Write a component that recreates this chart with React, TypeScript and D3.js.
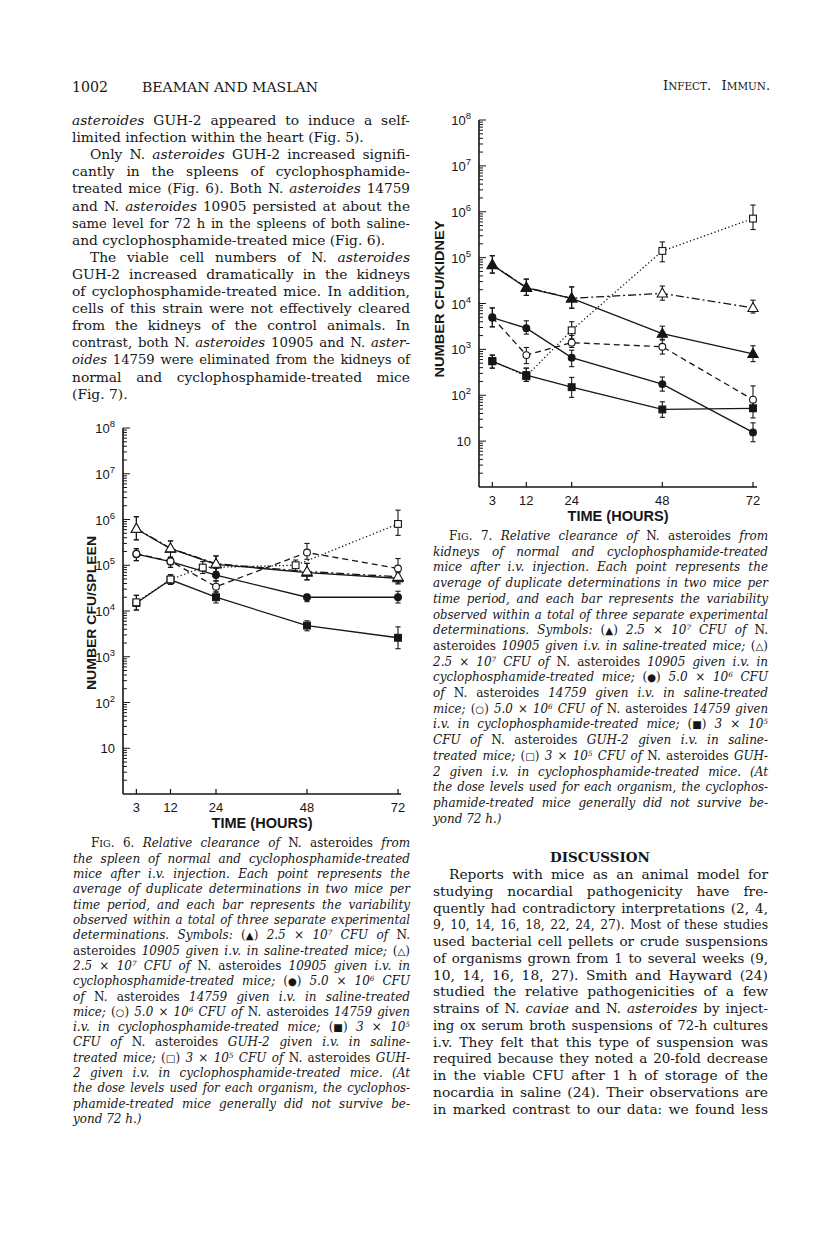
import React from 'react';
import * as d3 from 'd3';

// ---------------- DATA ----------------
const HOURS = [3, 12, 24, 48, 72];
const HOURS_SPLEEN_SQ_C = [3, 12, 20.5, 45, 72]; // open squares plotted slightly left in Fig. 6
const X_TICKS = [3, 12, 24, 48, 72];
const Y_EXPONENTS = [1, 2, 3, 4, 5, 6, 7, 8];

// Fig. 6 — spleen
const SPL_TRI_S = [6.2e5, 2.3e5, 1.05e5, 6.9e4, 5.2e4];
const SPL_TRI_S_LO = [3.6e5, 1.4e5, 7.2e4, 4.8e4, 3.9e4];
const SPL_TRI_S_HI = [1.15e6, 3.4e5, 1.6e5, 1.1e5, 6.8e4];
const SPL_TRI_C = [6.3e5, 2.35e5, 1.08e5, 7.3e4, 5.6e4];
const SPL_TRI_C_LO = [3.6e5, 1.4e5, 7.2e4, 4.8e4, 4.1e4];
const SPL_TRI_C_HI = [1.15e6, 3.4e5, 1.6e5, 1.1e5, 7.2e4];
const SPL_CIRC_S = [1.75e5, 1.2e5, 6.1e4, 2.0e4, 2.0e4];
const SPL_CIRC_S_LO = [1.26e5, 9.0e4, 4.6e4, 1.6e4, 1.5e4];
const SPL_CIRC_S_HI = [2.3e5, 1.5e5, 8.5e4, 2.3e4, 2.7e4];
const SPL_CIRC_C = [1.78e5, 1.22e5, 3.4e4, 1.9e5, 8.5e4];
const SPL_CIRC_C_LO = [1.26e5, 9.0e4, 2.6e4, 1.35e5, 5.0e4];
const SPL_CIRC_C_HI = [2.3e5, 1.5e5, 4.5e4, 3.0e5, 1.4e5];
const SPL_SQ_S = [1.5e4, 4.8e4, 2.0e4, 4.8e3, 2.6e3];
const SPL_SQ_S_LO = [1.05e4, 3.8e4, 1.5e4, 3.7e3, 1.5e3];
const SPL_SQ_S_HI = [2.2e4, 6.2e4, 2.6e4, 6.1e3, 4.5e3];
const SPL_SQ_C = [1.55e4, 4.9e4, 8.9e4, 1.0e5, 8.0e5];
const SPL_SQ_C_LO = [1.05e4, 3.8e4, 6.6e4, 7.6e4, 4.5e5];
const SPL_SQ_C_HI = [2.2e4, 6.2e4, 1.2e5, 1.3e5, 1.6e6];

// Fig. 7 — kidney
const KID_TRI_S = [6.9e4, 2.2e4, 1.3e4, 2.2e3, 8.0e2];
const KID_TRI_S_LO = [4.6e4, 1.5e4, 7.9e3, 1.6e3, 5.4e2];
const KID_TRI_S_HI = [1.1e5, 3.4e4, 2.3e4, 3.2e3, 1.2e3];
const KID_TRI_C = [7.0e4, 2.25e4, 1.3e4, 1.66e4, 8.0e3];
const KID_TRI_C_LO = [4.6e4, 1.5e4, 7.9e3, 1.18e4, 6.2e3];
const KID_TRI_C_HI = [1.1e5, 3.4e4, 2.3e4, 2.4e4, 1.18e4];
const KID_CIRC_S = [4.9e3, 2.9e3, 6.6e2, 1.75e2, 15.5];
const KID_CIRC_S_LO = [3.1e3, 2.15e3, 4.2e2, 1.23e2, 9.7];
const KID_CIRC_S_HI = [8.0e3, 4.2e3, 9.6e2, 2.5e2, 25];
const KID_CIRC_C = [5.0e3, 7.5e2, 1.4e3, 1.14e3, 80];
const KID_CIRC_C_LO = [3.1e3, 4.9e2, 1.1e3, 7.9e2, 44];
const KID_CIRC_C_HI = [8.0e3, 1.1e3, 2.0e3, 1.66e3, 1.6e2];
const KID_SQ_S = [5.5e2, 2.75e2, 1.5e2, 49, 52];
const KID_SQ_S_LO = [3.9e2, 2.0e2, 90, 33, 32];
const KID_SQ_S_HI = [7.5e2, 3.9e2, 2.45e2, 72, 81];
const KID_SQ_C = [5.6e2, 2.6e2, 2.6e3, 1.4e5, 7.1e5];
const KID_SQ_C_LO = [3.9e2, 2.0e2, 1.7e3, 8.1e4, 4.1e5];
const KID_SQ_C_HI = [7.5e2, 3.9e2, 4.0e3, 2.2e5, 1.4e6];

// ---------------- TEXT ----------------
const LEFT_BODY = [
  ['_asteroides_ GUH-2 appeared to induce a self-', 1, 0],
  ['limited infection within the heart (Fig. 5).', 0, 0],
  ['Only N. _asteroides_ GUH-2 increased signifi-', 1, 1],
  ['cantly in the spleens of cyclophosphamide-', 1, 0],
  ['treated mice (Fig. 6). Both N. _asteroides_ 14759', 1, 0],
  ['and N. _asteroides_ 10905 persisted at about the', 1, 0],
  ['same level for 72 h in the spleens of both saline-', 1, 0],
  ['and cyclophosphamide-treated mice (Fig. 6).', 0, 0],
  ['The viable cell numbers of N. _asteroides_', 1, 1],
  ['GUH-2 increased dramatically in the kidneys', 1, 0],
  ['of cyclophosphamide-treated mice. In addition,', 1, 0],
  ['cells of this strain were not effectively cleared', 1, 0],
  ['from the kidneys of the control animals. In', 1, 0],
  ['contrast, both N. _asteroides_ 10905 and N. _aster-_', 1, 0],
  ['_oides_ 14759 were eliminated from the kidneys of', 1, 0],
  ['normal and cyclophosphamide-treated mice', 1, 0],
  ['(Fig. 7).', 0, 0],
];

const CAPTION_TAIL = [
  'mice after i.v. injection. Each point represents the',
  'average of duplicate determinations in two mice per',
  'time period, and each bar represents the variability',
  'observed within a total of three separate experimental',
  'determinations. Symbols: _(▲)_ 2.5 × 10^7^ CFU of _N._',
  '_asteroides_ 10905 given i.v. in saline-treated mice; _(△)_',
  '2.5 × 10^7^ CFU of _N. asteroides_ 10905 given i.v. in',
  'cyclophosphamide-treated mice; _(●)_ 5.0 × 10^6^ CFU',
  'of _N. asteroides_ 14759 given i.v. in saline-treated',
  'mice; _(○)_ 5.0 × 10^6^ CFU of _N. asteroides_ 14759 given',
  'i.v. in cyclophosphamide-treated mice; _(■)_ 3 × 10^5^',
  'CFU of _N. asteroides_ GUH-2 given i.v. in saline-',
  'treated mice; _(□)_ 3 × 10^5^ CFU of _N. asteroides_ GUH-',
  '2 given i.v. in cyclophosphamide-treated mice. (At',
  'the dose levels used for each organism, the cyclophos-',
  'phamide-treated mice generally did not survive be-',
  'yond 72 h.)',
];
const FIG6_CAPTION = [
  '_F~IG~. 6._ Relative clearance of _N. asteroides_ from',
  'the spleen of normal and cyclophosphamide-treated',
  ...CAPTION_TAIL,
];
const FIG7_CAPTION = [
  '_F~IG~. 7._ Relative clearance of _N. asteroides_ from',
  'kidneys of normal and cyclophosphamide-treated',
  ...CAPTION_TAIL,
];

const DISCUSSION = [
  'Reports with mice as an animal model for',
  'studying nocardial pathogenicity have fre-',
  'quently had contradictory interpretations (2, 4,',
  '9, 10, 14, 16, 18, 22, 24, 27). Most of these studies',
  'used bacterial cell pellets or crude suspensions',
  'of organisms grown from 1 to several weeks (9,',
  '10, 14, 16, 18, 27). Smith and Hayward (24)',
  'studied the relative pathogenicities of a few',
  'strains of N. _caviae_ and N. _asteroides_ by inject-',
  'ing ox serum broth suspensions of 72-h cultures',
  'i.v. They felt that this type of suspension was',
  'required because they noted a 20-fold decrease',
  'in the viable CFU after 1 h of storage of the',
  'nocardia in saline (24). Their observations are',
  'in marked contrast to our data: we found less',
];

// ---------------- LAYOUT ----------------
const SERIF = '"DejaVu Serif", "Liberation Serif", serif';
const SANS = '"Liberation Sans", Arial, sans-serif';
const SYMBOL_FONT = '"DejaVu Sans", sans-serif';
const SYMBOLS = '▲△●○■□';
const INK = '#161616';

const FIG6_LAYOUT = { axisX: 123, yTop: 428, yBottom: 794, xr: [125, 398], xEnd: 401, labCx: 91, labCy: 613, labLen: 154 };
const FIG7_LAYOUT = { axisX: 479, yTop: 120, yBottom: 487, xr: [481, 753], xEnd: 757, labCx: 439, labCy: 299, labLen: 157 };

type Seg = { t: string; it: boolean; sup: boolean; sc: boolean; sym: boolean };
function parse(s: string): Seg[] {
  const out: Seg[] = [];
  let it = false, sup = false, sc = false, buf = '';
  const push = () => { if (buf) { out.push({ t: buf, it, sup, sc, sym: false }); buf = ''; } };
  for (const ch of s) {
    if (ch === '_') { push(); it = !it; }
    else if (ch === '^') { push(); sup = !sup; }
    else if (ch === '~') { push(); sc = !sc; }
    else if (SYMBOLS.includes(ch)) { push(); out.push({ t: ch, it: false, sup: false, sc: false, sym: true }); }
    else buf += ch;
  }
  push();
  return out;
}

let measureCtx: CanvasRenderingContext2D | null = null;
function measure(text: string, font: string): number {
  if (!measureCtx) measureCtx = document.createElement('canvas').getContext('2d');
  if (!measureCtx) return text.length * 7;
  measureCtx.font = font;
  return measureCtx.measureText(text).width;
}

function Line({ x, y, str, size, width, italicBase = false, weight = 'normal', anchor = 'start' }:
  { x: number; y: number; str: string; size: number; width?: number; italicBase?: boolean; weight?: string; anchor?: string }) {
  const segs = parse(str);
  const info = segs.map(s => {
    const fs = s.sup ? size * 0.6 : s.sc ? size * 0.8 : s.sym ? size * 0.85 : size;
    const italic = s.sym ? false : italicBase !== s.it;
    const fam = s.sym ? SYMBOL_FONT : SERIF;
    const w = measure(s.t, `${italic ? 'italic' : 'normal'} ${weight} ${fs}px ${fam}`);
    return { fs, italic, w, fam };
  });
  let wordSpacing: number | undefined;
  let squeeze = false;
  if (width) {
    const natural = info.reduce((a, b) => a + b.w, 0);
    const spaces = segs.reduce((a, s) => a + (s.t.match(/ /g) || []).length, 0);
    if (spaces > 0) {
      wordSpacing = (width - natural) / spaces;
      const minWs = size * 0.12;
      if (wordSpacing < minWs) { wordSpacing = minWs; squeeze = true; }
    }
  }
  return (
    <text x={x} y={y} fontFamily={SERIF} fontSize={size} fill={INK} fontWeight={weight}
      textAnchor={anchor} xmlSpace="preserve" wordSpacing={wordSpacing}
      {...(squeeze ? { textLength: width, lengthAdjust: 'spacingAndGlyphs' } : {})}>
      {segs.map((s, i) => (
        <tspan key={i} fontSize={info[i].fs} fontFamily={s.sym ? SYMBOL_FONT : undefined}
          baselineShift={s.sup ? size * 0.3 : undefined}
          fontStyle={info[i].italic ? 'italic' : 'normal'}>{s.t}</tspan>
      ))}
    </text>
  );
}

type Series = { xs: number[]; v: number[]; lo: number[]; hi: number[]; marker: 'tri' | 'circ' | 'sq'; filled: boolean; dash: string };

function Chart({ L, series, yLabel }: { L: typeof FIG6_LAYOUT; series: Series[]; yLabel: string }) {
  const y = d3.scaleLog().domain([1, 1e8]).range([L.yBottom, L.yTop]);
  const x = d3.scaleLinear().domain([0, 72]).range(L.xr);
  const line = d3.line<[number, number]>().x(d => x(d[0])).y(d => y(d[1]));
  const ticks = y.ticks();
  const tri = d3.symbol(d3.symbolTriangle, 46)()!;
  const marker = (s: Series, px: number, py: number, k: number) => {
    const fill = s.filled ? INK : '#fff';
    if (s.marker === 'circ') return <circle key={k} cx={px} cy={py} r={3.4} fill={fill} stroke={INK} strokeWidth={1.1} />;
    if (s.marker === 'sq') return <rect key={k} x={px - 3.4} y={py - 3.4} width={6.8} height={6.8} fill={fill} stroke={INK} strokeWidth={1.1} />;
    return <path key={k} d={tri} transform={`translate(${px},${py + 0.6})`} fill={fill} stroke={INK} strokeWidth={1.1} />;
  };
  return (
    <g>
      <line x1={L.axisX} x2={L.axisX} y1={L.yTop} y2={L.yBottom} stroke={INK} strokeWidth={1.6} />
      <line x1={L.axisX} x2={L.xEnd} y1={L.yBottom} y2={L.yBottom} stroke={INK} strokeWidth={1.6} />
      {ticks.map((t, i) => {
        const e = Math.log10(t);
        const major = Math.abs(e - Math.round(e)) < 1e-9;
        if (t === 1) return null;
        return <line key={i} x1={L.axisX} x2={L.axisX + (major ? 7 : 4)} y1={y(t)} y2={y(t)} stroke={INK} strokeWidth={1} />;
      })}
      {Y_EXPONENTS.map(e => (
        <text key={e} x={L.axisX - 8} y={y(Math.pow(10, e)) + 5} textAnchor="end" fontFamily={SANS} fontSize={13} fill={INK}>
          10{e > 1 ? <tspan dy={-6} fontSize={9.5}>{e}</tspan> : null}
        </text>
      ))}
      {X_TICKS.map(t => (
        <g key={t}>
          <line x1={x(t)} x2={x(t)} y1={L.yBottom} y2={L.yBottom - 5} stroke={INK} strokeWidth={1.2} />
          <text x={x(t)} y={L.yBottom + 18} textAnchor="middle" fontFamily={SANS} fontSize={13} fill={INK}>{t}</text>
        </g>
      ))}
      <text x={(L.axisX + L.xEnd) / 2} y={L.yBottom + 34} textAnchor="middle" fontFamily={SANS} fontWeight="bold"
        fontSize={14} fill={INK} textLength={101} lengthAdjust="spacingAndGlyphs">TIME (HOURS)</text>
      <text transform={`translate(${L.labCx + 4.5},${L.labCy}) rotate(-90)`} textAnchor="middle" fontFamily={SANS}
        fontWeight="bold" fontSize={12.5} fill={INK} textLength={L.labLen} lengthAdjust="spacingAndGlyphs">{yLabel}</text>
      {series.map((s, i) => (
        <path key={'l' + i} d={line(s.xs.map((h, j) => [h, s.v[j]] as [number, number]))!} fill="none" stroke={INK}
          strokeWidth={1.3} strokeDasharray={s.dash || undefined} />
      ))}
      {series.map((s, i) => (
        <g key={'e' + i}>
          {s.xs.map((h, j) => {
            const px = x(h), y1 = y(s.lo[j]), y2 = y(s.hi[j]);
            return (
              <g key={j} stroke={INK} strokeWidth={1.1}>
                <line x1={px} x2={px} y1={y1} y2={y2} />
                <line x1={px - 2.6} x2={px + 2.6} y1={y1} y2={y1} />
                <line x1={px - 2.6} x2={px + 2.6} y1={y2} y2={y2} />
              </g>
            );
          })}
        </g>
      ))}
      {series.map((s, i) => (
        <g key={'m' + i}>{s.xs.map((h, j) => marker(s, x(h), y(s.v[j]), j))}</g>
      ))}
    </g>
  );
}

const SOLID = '';
const DASHED = '6 4';
const DOTTED = '1.3 2.4';
const DASHDOT = '8 3 2 3';

const SPLEEN_SERIES: Series[] = [
  { xs: HOURS, v: SPL_TRI_S, lo: SPL_TRI_S_LO, hi: SPL_TRI_S_HI, marker: 'tri', filled: true, dash: SOLID },
  { xs: HOURS, v: SPL_CIRC_S, lo: SPL_CIRC_S_LO, hi: SPL_CIRC_S_HI, marker: 'circ', filled: true, dash: SOLID },
  { xs: HOURS, v: SPL_SQ_S, lo: SPL_SQ_S_LO, hi: SPL_SQ_S_HI, marker: 'sq', filled: true, dash: SOLID },
  { xs: HOURS, v: SPL_TRI_C, lo: SPL_TRI_C_LO, hi: SPL_TRI_C_HI, marker: 'tri', filled: false, dash: DASHDOT },
  { xs: HOURS, v: SPL_CIRC_C, lo: SPL_CIRC_C_LO, hi: SPL_CIRC_C_HI, marker: 'circ', filled: false, dash: DASHED },
  { xs: HOURS_SPLEEN_SQ_C, v: SPL_SQ_C, lo: SPL_SQ_C_LO, hi: SPL_SQ_C_HI, marker: 'sq', filled: false, dash: DOTTED },
];

const KIDNEY_SERIES: Series[] = [
  { xs: HOURS, v: KID_TRI_C, lo: KID_TRI_C_LO, hi: KID_TRI_C_HI, marker: 'tri', filled: false, dash: DASHDOT },
  { xs: HOURS, v: KID_CIRC_C, lo: KID_CIRC_C_LO, hi: KID_CIRC_C_HI, marker: 'circ', filled: false, dash: DASHED },
  { xs: HOURS, v: KID_SQ_C, lo: KID_SQ_C_LO, hi: KID_SQ_C_HI, marker: 'sq', filled: false, dash: DOTTED },
  { xs: HOURS, v: KID_TRI_S, lo: KID_TRI_S_LO, hi: KID_TRI_S_HI, marker: 'tri', filled: true, dash: SOLID },
  { xs: HOURS, v: KID_CIRC_S, lo: KID_CIRC_S_LO, hi: KID_CIRC_S_HI, marker: 'circ', filled: true, dash: SOLID },
  { xs: HOURS, v: KID_SQ_S, lo: KID_SQ_S_LO, hi: KID_SQ_S_HI, marker: 'sq', filled: true, dash: SOLID },
];

export default function App() {
  const bodySize = 13.8;
  const capSize = 12.0;
  const leftX = 72, leftW = 338, indent = 18;
  const rightX = 433, rightW = 335;
  return (
    <svg width={816} height={1241} viewBox="0 0 816 1241"
      style={{ position: 'absolute', left: 0, top: 0, display: 'block', background: '#fff' }}>
      <rect x={0} y={0} width={816} height={1241} fill="#fff" />
      <text x={72} y={92} fontFamily={SERIF} fontSize={14.5} fill={INK} textLength={36} lengthAdjust="spacingAndGlyphs">1002</text>
      <text x={142} y={92} fontFamily={SERIF} fontSize={12.5} fill={INK} textLength={176} lengthAdjust="spacingAndGlyphs">BEAMAN AND MASLAN</text>
      <Line x={663} y={90} str={'I~NFECT~. I~MMUN~.'} size={13} width={107} />

      {LEFT_BODY.map(([s, j, ind], i) => (
        <Line key={i} x={leftX + (ind ? indent : 0)} y={125 + i * 17.1} str={s as string} size={bodySize}
          width={j ? leftW - (ind ? indent : 0) : undefined} />
      ))}

      <Chart L={FIG6_LAYOUT} series={SPLEEN_SERIES} yLabel="NUMBER CFU/SPLEEN" />
      <Chart L={FIG7_LAYOUT} series={KIDNEY_SERIES} yLabel="NUMBER CFU/KIDNEY" />

      {FIG6_CAPTION.map((s, i) => {
        const ind = i === 0 ? 18 : 0;
        const last = i === FIG6_CAPTION.length - 1;
        return <Line key={i} x={73 + ind} y={847.3 + i * 15.32} str={s} size={capSize} italicBase
          width={last ? undefined : 337 - ind} />;
      })}

      {FIG7_CAPTION.map((s, i) => {
        const ind = i === 0 ? 16 : 0;
        const last = i === FIG7_CAPTION.length - 1;
        return <Line key={i} x={rightX + ind} y={540 + i * 15.7} str={s} size={capSize} italicBase
          width={last ? undefined : rightW - ind} />;
      })}

      <Line x={600} y={862} str="DISCUSSION" size={13.5} weight="bold" anchor="middle" />

      {DISCUSSION.map((s, i) => {
        const ind = i === 0 ? 16 : 0;
        return <Line key={i} x={rightX + ind} y={879 + i * 16.75} str={s} size={bodySize} width={rightW - ind} />;
      })}
    </svg>
  );
}
